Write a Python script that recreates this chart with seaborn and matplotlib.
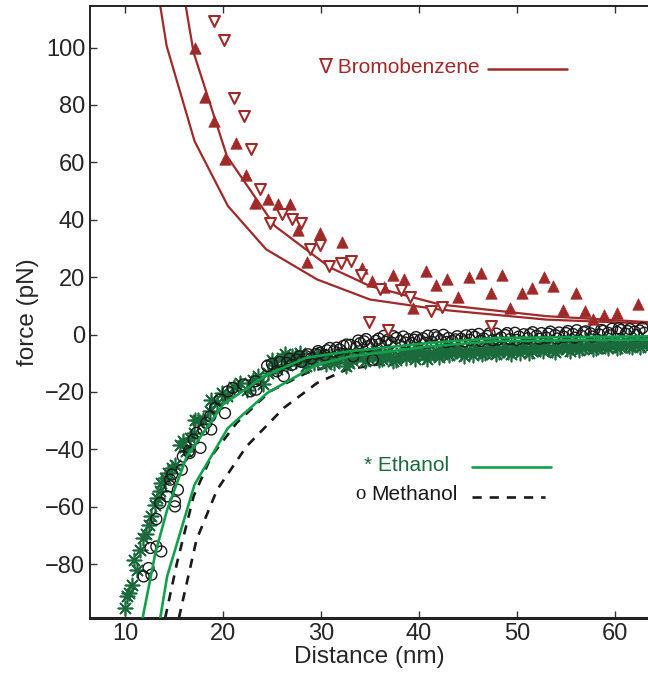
import matplotlib
matplotlib.use("Agg")
import matplotlib.pyplot as plt
import seaborn as sns

# ---- Bromobenzene data (two runs) ----
bromo_up_x = [17.1, 18.2, 19.1, 21.3, 20.2, 22.3, 23.3, 24.6, 25.6, 26.8, 27.7, 29.9, 28.6, 32.1,
              34.2, 35.2, 36.4, 37.4, 38.5, 39.4, 40.7, 41.7, 42.9, 44.0, 45.1, 46.3, 47.3, 48.5,
              49.3, 50.5, 51.5, 52.8, 53.7, 54.7, 56.0, 56.9, 57.8, 58.9, 60.2, 62.4]
bromo_up_y = [99.7, 82.8, 74.4, 66.9, 61.3, 55.5, 46.0, 47.3, 45.6, 45.6, 36.6, 35.5, 25.3, 32.1,
              23.1, 18.6, 16.5, 20.6, 19.2, 9.3, 22.3, 17.1, 19.2, 13.0, 20.0, 21.3, 14.3, 20.8,
              9.3, 14.3, 16.3, 20.0, 16.9, 8.7, 14.3, 8.1, 5.4, 6.7, 7.6, 10.5]

bromo_dn_x = [19.1, 20.1, 21.1, 22.1, 22.9, 23.8, 24.8, 26.0, 27.0, 28.0, 28.9, 29.9, 30.8, 32.0,
              33.1, 34.1, 36.0, 38.2, 39.1, 41.2, 42.3, 34.9, 36.8, 47.3]
bromo_dn_y = [109.3, 102.7, 82.6, 76.2, 64.8, 50.8, 38.7, 41.9, 40.1, 39.0, 29.9, 31.1, 23.8, 25.0,
              25.6, 20.6, 15.7, 15.4, 13.0, 8.1, 9.6, 4.2, 1.7, 2.9]

# Bromobenzene fits
bromo_fit1_x = [16.2, 17.0, 20.4, 25.3, 30.9, 35.0, 42.1, 53.0, 63.5]
bromo_fit1_y = [114.5, 98.3, 62.2, 37.8, 23.4, 16.9, 10.5, 6.4, 4.3]
bromo_fit2_x = [13.6, 14.25, 17.1, 20.5, 24.4, 29.6, 35.0, 42.1, 53.0, 63.5]
bromo_fit2_y = [114.5, 100.6, 67.4, 44.8, 29.7, 19.2, 12.2, 8.7, 5.2, 3.8]

# ---- Ethanol data ----
eth_x = [10.0, 10.2, 10.7, 11.2, 10.9, 11.5, 11.8, 12.5, 12.7, 13.1, 13.6, 13.7, 14.4, 14.8, 15.1,
         15.6, 15.9, 17.0, 17.1, 17.5, 18.0, 18.7, 18.8, 19.4, 20.4, 21.7, 22.4, 23.1, 24.1, 24.6,
         25.0, 25.5, 26.0, 26.5, 27.0, 27.5, 27.9, 28.5, 29.0, 29.6, 30.2, 30.8, 31.3, 31.8, 32.3,
         32.6, 33.2, 33.7, 34.2, 34.8, 35.3, 35.9, 36.4, 37.0, 37.7, 38.2, 38.7, 39.3, 39.9, 40.5,
         41.1, 41.7, 42.3, 42.5, 43.1, 43.7, 44.3, 44.9, 45.5, 46.1, 46.7, 47.3, 47.9, 48.5, 49.1,
         49.7, 50.3, 50.9, 51.5, 52.1, 52.7, 53.3, 53.9, 54.5, 55.1, 55.7, 56.3, 56.9, 57.5, 58.1,
         58.7, 59.3, 59.9, 60.5, 61.1, 61.7, 62.3, 62.9,
         10.4, 12.1, 13.3, 14.1, 16.2, 16.6, 19.9, 21.1, 23.6,
         25.3, 26.3, 27.3, 28.2, 29.3, 30.0, 30.5, 31.0, 32.0, 32.9, 33.5, 34.5, 35.6, 36.2, 36.8,
         37.4, 38.0, 39.0, 39.6, 40.2, 40.8, 41.4, 42.0, 42.8, 43.4, 44.0, 44.6, 45.2, 45.8, 46.4,
         47.0, 47.6, 48.2, 48.8, 49.4, 50.0, 50.6, 51.2, 51.8, 52.4, 53.0, 53.6, 54.2, 54.8, 55.4,
         56.0, 56.6, 57.2, 57.8, 58.4, 59.0, 59.6, 60.2, 60.8, 61.4, 62.0, 62.6, 63.2]
eth_y = [-95.4, -91.3, -87.2, -82.0, -78.5, -75.0, -70.9, -66.3, -63.4, -59.3, -54.7, -51.7, -48.3,
         -46.5, -45.4, -38.4, -37.2, -34.3, -29.7, -29.7, -29.7, -26.8, -22.7, -23.9, -21.5, -16.9,
         -19.2, -15.7, -17.4, -13.4, -9.0, -12.0, -8.1, -10.5, -7.5, -9.2, -6.4, -11.0, -8.0, -7.0,
         -9.0, -7.8, -9.9, -8.5, -7.2, -11.0, -8.8, -7.4, -6.5, -8.3, -7.0, -9.0, -6.8, -7.9, -8.8,
         -6.6, -8.2, -7.2, -6.2, -7.6, -7.1, -5.9, -6.8, -5.9, -7.3, -5.6, -6.6, -5.4, -7.0, -5.8,
         -6.4, -5.0, -6.9, -5.5, -6.1, -4.8, -6.3, -5.1, -5.9, -4.6, -5.7, -4.9, -6.0, -4.4, -5.2,
         -4.0, -5.5, -4.3, -3.6, -4.8, -3.9, -4.6, -3.3, -4.2, -3.5, -4.4, -3.1, -3.8,
         -90.0, -69.5, -57.0, -50.0, -40.5, -36.0, -20.5, -18.4, -14.6,
         -10.6, -6.9, -8.2, -9.4, -9.8, -6.9, -10.4, -8.9, -6.8, -9.8, -6.3, -9.4, -5.9, -8.4, -6.0,
         -9.4, -7.4, -5.9, -8.5, -5.4, -8.4, -6.4, -7.8, -5.0, -6.4, -4.9, -7.6, -6.0, -4.6, -6.9,
         -5.6, -4.3, -6.0, -4.5, -6.8, -5.2, -4.3, -6.4, -4.0, -5.2, -3.9, -5.4, -4.8, -3.6, -5.8,
         -3.9, -4.8, -3.2, -5.2, -3.5, -4.0, -2.8, -4.8, -3.0, -3.9, -2.6, -4.2, -3.0]

eth_fit1_x = [11.8, 13.1, 14.3, 16.3, 20.0, 24.5, 28.5, 33.0, 41.1, 47.9, 63.5]
eth_fit1_y = [-98.8, -76.2, -61.1, -42.5, -24.4, -14.0, -8.1, -5.8, -2.9, -1.2, -0.6]
eth_fit2_x = [13.6, 14.3, 17.1, 20.5, 24.5, 29.6, 33.0, 41.1, 47.9, 63.5]
eth_fit2_y = [-98.8, -84.3, -52.3, -32.6, -20.4, -10.5, -7.6, -4.1, -2.3, -1.7]

# ---- Methanol data ----
meth_x = [11.9, 12.7, 12.4, 12.6, 13.2, 13.7, 13.2, 13.6, 14.3, 15.1, 15.1, 15.4, 14.6, 14.6, 14.8,
          15.8, 15.9, 16.5, 16.6, 17.7, 17.0, 17.3, 18.0, 18.3, 18.8, 18.7, 19.2, 20.2, 19.7, 20.5,
          21.0, 22.1, 22.8, 23.4, 23.3,
          24.5, 25.5, 26.2, 26.5, 27.0, 27.5, 28.0, 28.5, 29.0, 29.5, 29.9, 30.4, 30.9, 31.3, 31.9,
          32.3, 32.6, 33.0, 33.3, 33.6, 34.0, 34.4, 34.8, 35.3, 35.6, 36.0, 36.4, 36.8, 37.2, 37.7,
          38.1, 38.4, 38.9, 39.3, 39.7, 40.1, 40.4, 40.9, 41.3, 41.8, 42.2, 42.5, 43.0, 43.4, 43.9,
          44.3, 44.8, 45.2, 45.7, 46.1, 46.6, 47.0, 47.5, 47.9, 48.4, 48.8, 49.3, 49.8, 50.2, 50.7,
          51.1, 51.6, 52.0, 52.5, 53.0, 53.4, 53.9, 54.3, 54.8, 55.2, 55.7, 56.1, 56.6, 57.0, 57.5,
          57.9, 58.4, 58.8, 59.3, 59.7, 60.2, 60.6, 61.1, 61.5, 62.0, 62.5, 63.0,
          25.0, 25.8, 26.8, 27.8, 28.7, 29.7, 30.6, 31.6, 32.0, 33.8, 34.6, 35.2, 35.9, 36.6, 37.4,
          38.6, 39.5, 40.7, 41.6, 42.8, 43.7, 44.6, 45.4, 46.3, 47.2, 48.1, 49.0, 50.0, 51.3, 52.3,
          53.2, 54.1, 55.0, 55.9, 56.8, 57.7, 58.6, 59.5, 60.4, 61.3, 62.2, 62.8]
meth_y = [-84.3, -83.7, -81.4, -74.4, -73.9, -75.6, -64.3, -58.7, -56.4, -58.2, -59.9, -54.1, -52.9,
          -50.6, -48.8, -47.1, -42.5, -40.7, -41.3, -39.5, -36.6, -34.3, -33.1, -30.8, -33.1, -28.5,
          -25.6, -27.4, -22.7, -19.8, -18.6, -17.4, -19.8, -19.2, -16.3,
          -11.0, -12.8, -14.5, -9.9, -10.6, -8.7, -9.5, -7.6, -8.3, -6.8, -6.4, -7.2, -4.7, -5.9,
          -5.2, -4.0, -3.5, -3.6, -7.6, -4.4, -3.0, -2.4, -4.1, -8.8, -2.2, -3.3, -0.5, -1.9, -2.8,
          -1.2, -2.3, -0.7, -1.6, -3.0, -0.9, -2.0, -1.3, -0.4, -2.5, -1.0, -1.9, -0.1, -1.2, -2.2,
          -0.6, -1.5, -0.3, -1.8, -0.8, 0.2, -1.4, -0.5, -2.0, 0.3, -1.0, -0.2, -1.6, 0.6, -0.7, 0.1,
          -1.3, 0.8, -0.4, 0.5, -1.1, 1.0, -0.2, 0.7, -0.8, 1.2, 0.2, 1.5, -0.5, 1.1, 0.4, 1.8, 0.0,
          1.3, 0.6, 2.0, 0.9, 1.6, 0.3, 1.9, 1.0, 1.4, 0.6,
          -10.2, -9.6, -8.4, -7.6, -6.9, -5.8, -5.5, -4.6, -6.6, -2.1, -1.6, -3.4, -1.4, -2.6, -0.6,
          -2.8, -1.8, -2.9, -0.2, -2.6, -1.7, -2.4, -0.1, -2.2, 0.4, -1.7, 0.5, -1.9, 0.1, -1.5,
          0.3, -1.4, 0.5, -1.1, 0.8, -0.7, 1.6, -0.3, 2.2, 1.2, -0.2, 2.3]

meth_fit1_x = [14.1, 15.3, 17.0, 18.8, 21.4, 24.8, 28.5, 32.6, 45.0, 63.5]
meth_fit1_y = [-98.8, -79.7, -56.4, -42.5, -30.8, -19.8, -13.4, -9.3, -4.0, -1.5]
meth_fit2_x = [15.5, 17.3, 19.4, 22.4, 26.2, 29.6, 32.6, 45.0, 63.5]
meth_fit2_y = [-98.8, -71.5, -54.1, -39.0, -25.6, -16.9, -12.2, -5.5, -2.5]

x_ticks = [10, 20, 30, 40, 50, 60]
y_ticks = [-80, -60, -40, -20, 0, 20, 40, 60, 80, 100]
y_ticklabels = ["\u221280", "\u221260", "\u221240", "\u221220", "0", "20", "40", "60", "80", "100"]

RED = "#9f2a2a"
GREEN_LINE = "#12a04c"
GREEN_DOT = "#1b6a3c"
DARK = "#1a1a1a"
DASH = (0, (3.5, 3))

sns.set_style("white")
plt.rcParams["font.family"] = ["Liberation Sans", "DejaVu Sans"]

fig = plt.figure(figsize=(6.48, 6.79), dpi=100)
ax = fig.add_axes([90 / 648, 61 / 679, 1 - 90 / 648, 612 / 679])

# fit lines
for fx, fy in [(bromo_fit1_x, bromo_fit1_y), (bromo_fit2_x, bromo_fit2_y)]:
    sns.lineplot(x=fx, y=fy, ax=ax, color=RED, lw=1.6, sort=False, estimator=None)
for fx, fy in [(eth_fit1_x, eth_fit1_y), (eth_fit2_x, eth_fit2_y)]:
    sns.lineplot(x=fx, y=fy, ax=ax, color=GREEN_LINE, lw=1.9, sort=False, estimator=None, zorder=4)
for fx, fy in [(meth_fit1_x, meth_fit1_y), (meth_fit2_x, meth_fit2_y)]:
    sns.lineplot(x=fx, y=fy, ax=ax, color=DARK, lw=1.9, sort=False, estimator=None,
                 linestyle=DASH)

# data points
sns.scatterplot(x=eth_x, y=eth_y, ax=ax, marker=(8, 2, 0), s=105, color=GREEN_DOT,
                linewidth=1.2, zorder=3)
sns.scatterplot(x=meth_x, y=meth_y, ax=ax, marker="o", s=62, facecolor="none",
                edgecolor=DARK, linewidth=1.0, zorder=3)
sns.scatterplot(x=bromo_up_x, y=bromo_up_y, ax=ax, marker="^", s=68, color=RED,
                edgecolor=RED, linewidth=0.5, zorder=3)
sns.scatterplot(x=bromo_dn_x, y=bromo_dn_y, ax=ax, marker="v", s=62, facecolor="white",
                edgecolor=RED, linewidth=1.5, zorder=3)

# in-plot legend texts
ax.text(29.7, 93.0, "\u2207 Bromobenzene", color=RED, fontsize=15, va="center", ha="left",
        family=["Liberation Sans", "DejaVu Sans"])
sns.lineplot(x=[47.0, 55.1], y=[92.4, 92.4], ax=ax, color=RED, lw=1.8)
ax.text(34.4, -45.8, "* Ethanol", color=GREEN_DOT, fontsize=15, va="center", ha="left")
sns.lineplot(x=[45.4, 53.5], y=[-46.2, -46.2], ax=ax, color=GREEN_LINE, lw=1.9)
ax.text(33.5, -55.6, "o", color=DARK, fontsize=15, va="center", ha="left",
        family=["Liberation Serif", "DejaVu Serif"])
ax.text(35.1, -55.6, "Methanol", color=DARK, fontsize=15, va="center", ha="left")
sns.lineplot(x=[45.4, 52.9], y=[-56.6, -56.6], ax=ax, color=DARK, lw=1.9, linestyle=DASH)

ax.set_xlim(6.43, 63.37)
ax.set_ylim(-98.8, 114.5)
ax.set_xticks(x_ticks)
ax.set_yticks(y_ticks)
ax.set_yticklabels(y_ticklabels)
ax.tick_params(axis="both", direction="in", length=5, width=1.0, labelsize=17, color="#333333",
               top=True, left=True, bottom=True, right=False)
ax.set_xlabel("Distance (nm)", fontsize=17.5, labelpad=1)
ax.set_ylabel("force (pN)", fontsize=17.5, labelpad=4)

for side in ["left", "top"]:
    ax.spines[side].set_linewidth(1.4)
    ax.spines[side].set_color("#222222")
ax.spines["bottom"].set_linewidth(2.2)
ax.spines["bottom"].set_color("#222222")
ax.spines["right"].set_visible(False)

fig.savefig("out.png", dpi=100)
